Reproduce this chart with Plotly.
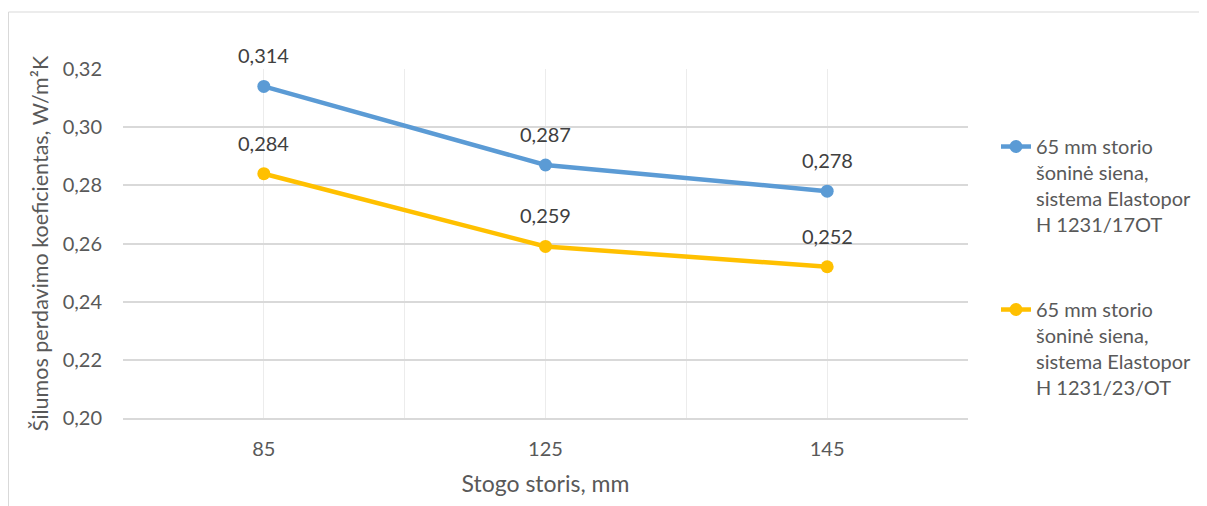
import plotly.graph_objects as go

categories = ["85", "125", "145"]
series_names = [
    "65 mm storio<br>šoninė siena,<br>sistema Elastopor<br>H 1231/17OT",
    "65 mm storio<br>šoninė siena,<br>sistema Elastopor<br>H 1231/23/OT",
]
values_17 = [0.314, 0.287, 0.278]
values_23 = [0.284, 0.259, 0.252]
y_ticks = [0.20, 0.22, 0.24, 0.26, 0.28, 0.30, 0.32]
colors = ["#5B9BD5", "#FFC000"]

FONT = "Lato"
x_pos = list(range(len(categories)))

fig = go.Figure()
annotations = []
for i, (name, vals) in enumerate([(series_names[0], values_17), (series_names[1], values_23)]):
    fig.add_trace(go.Scatter(
        x=x_pos, y=vals, name=name, mode="lines+markers",
        line=dict(color=colors[i], width=4.5),
        marker=dict(color=colors[i], size=13),
        legendgroup=f"g{i}",
    ))
    for xp, v in zip(x_pos, vals):
        annotations.append(dict(
            x=xp, y=v, xref="x", yref="y", text=f"{v:.3f}".replace(".", ","),
            showarrow=False, yshift=31,
            font=dict(family=FONT, size=20, color="#404040"),
        ))

# page has an 8px body margin, so the figure is shifted accordingly
fig.update_layout(
    width=1199, height=498,
    margin=dict(l=115, r=239, t=61, b=88),
    paper_bgcolor="white", plot_bgcolor="white",
    font=dict(family=FONT, size=20, color="#595959"),
    annotations=annotations,
    showlegend=True,
    legend=dict(
        xref="container", yref="container",
        x=0.824, y=0.761, xanchor="left", yanchor="top",
        maxheight=420, valign="top",
        font=dict(family=FONT, size=20, color="#595959"),
        tracegroupgap=56, bgcolor="rgba(0,0,0,0)",
    ),
    shapes=[dict(
        type="rect", xref="paper", yref="paper",
        x0=(8.5 - 123) / 845, x1=1.5, y0=-0.5, y1=(418 - 12) / 349,
        line=dict(color="#d9d9d9", width=1), fillcolor="rgba(0,0,0,0)", layer="below",
    )],
)

fig.update_xaxes(
    range=[-0.5, 2.5], tickvals=x_pos, ticktext=categories,
    showgrid=True, gridcolor="#ececec", gridwidth=1,
    minor=dict(tickvals=[-0.5, 0.5, 1.5, 2.5], showgrid=True, gridcolor="#ececec", gridwidth=1),
    showline=True, linecolor="#d9d9d9", linewidth=1.5,
    zeroline=False, ticks="", ticklabelstandoff=12,
    tickfont=dict(family=FONT, size=20, color="#595959"),
    title=dict(text="Stogo storis, mm", standoff=17,
               font=dict(family=FONT, size=23, color="#595959")),
)
fig.update_yaxes(
    range=[0.20, 0.32], tickvals=y_ticks,
    ticktext=[f"{t:.2f}".replace(".", ",") for t in y_ticks],
    showgrid=True, gridcolor="#d9d9d9", gridwidth=1.5,
    showline=False, zeroline=False, ticks="", ticklabelstandoff=20,
    tickfont=dict(family=FONT, size=20, color="#595959"),
    title=dict(text="Šilumos perdavimo koeficientas, W/m²K", standoff=8,
               font=dict(family=FONT, size=21.5, color="#595959")),
)

fig.write_html("out.html")
